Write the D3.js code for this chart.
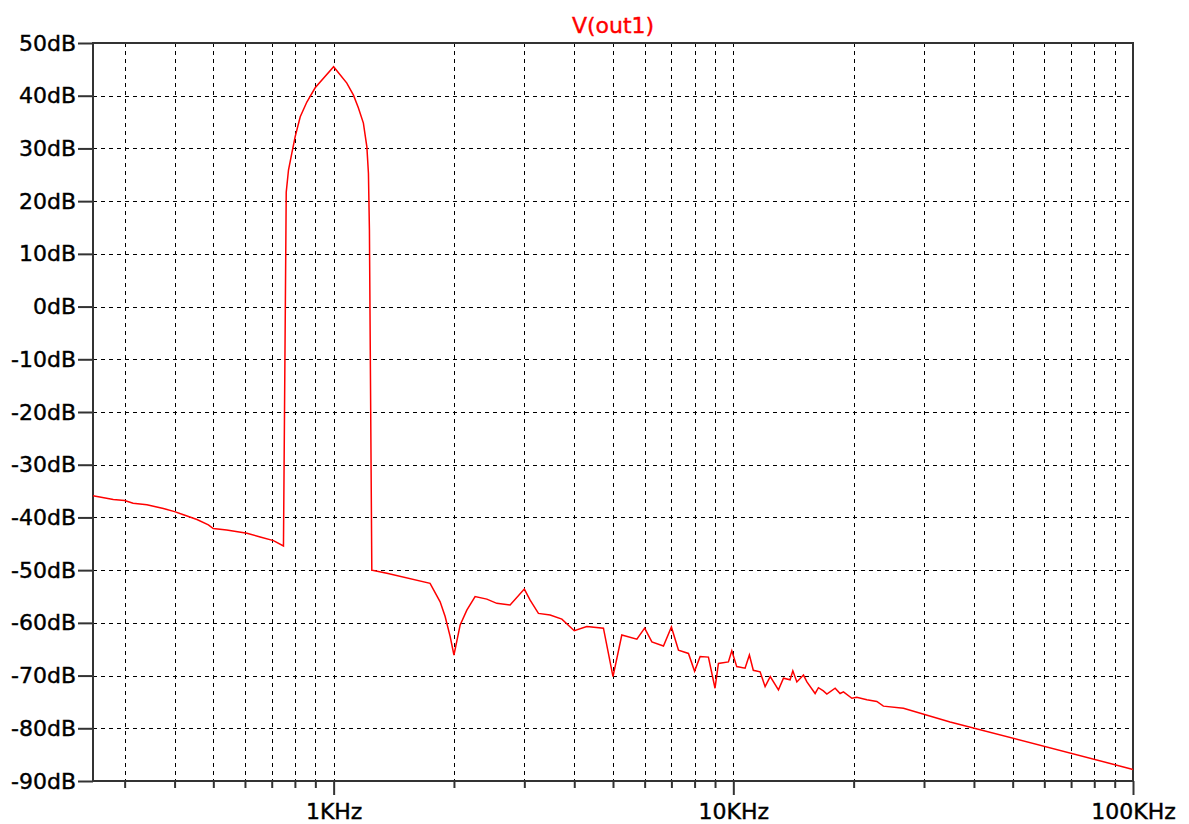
<!DOCTYPE html>
<html>
<head>
<meta charset="utf-8">
<script src="https://cdn.jsdelivr.net/npm/d3@7"></script>
<style>
  body { margin: 0; background: #fff; }
  text { font-family: "DejaVu Sans", sans-serif; }
</style>
</head>
<body>
<figure id="bode" style="margin:0"></figure>
<script>
// curve: frequency (Hz) and magnitude (dB)
var freq = [250, 281, 300, 315, 341, 375, 400, 421, 455, 486, 500, 540, 607, 655, 707, 749,
  761, 771, 786, 801, 825, 857, 899, 1000, 1079, 1121, 1153, 1187, 1211, 1222, 1229, 1246,
  1250, 1359, 1743, 1847, 1901, 1957, 2000, 2073, 2154, 2259, 2417, 2560, 2764, 3000, 3102,
  3254, 3481, 3724, 4000, 4300, 4732, 5000, 5260, 5737, 6000, 6255, 6687, 7000, 7291, 7723,
  8000, 8259, 8664, 9000, 9178, 9721, 9913, 10200, 10700, 10970, 11220, 11670, 12010, 12370,
  12970, 13350, 13870, 14090, 14420, 14980, 15280, 16020, 16330, 16800, 17140, 17980, 18500,
  18860, 19800, 20370, 21580, 22860, 23740, 26650, 34860, 100000];
var mag = [-35.9, -36.6, -36.8, -37.3, -37.6, -38.3, -38.9, -39.5, -40.4, -41.4, -42.1, -42.4, -43.0, -43.7, -44.4, -45.4,
  21.7, 25.9, 29.1, 32.2, 36.0, 38.8, 41.5, 45.5, 42.4, 40.1, 37.7, 34.8, 30.3, 25.3, 14.5, -50.0,
  -50.0, -50.6, -52.5, -56.0, -58.8, -62.6, -66.1, -60.4, -57.6, -55.0, -55.5, -56.3, -56.6, -53.6, -55.7,
  -58.2, -58.5, -59.3, -61.5, -60.7, -61.0, -70.2, -62.3, -63.1, -61.0, -63.6, -64.4, -60.8, -65.2, -65.8,
  -69.2, -66.4, -66.5, -72.4, -67.7, -67.4, -65.3, -68.3, -68.6, -66.1, -69.0, -69.3, -72.1, -70.2,
  -72.7, -70.5, -70.8, -69.1, -71.2, -69.9, -71.2, -73.4, -72.3, -72.9, -73.5, -72.4, -73.4,
  -73.1, -74.3, -74.1, -74.6, -74.9, -75.8, -76.2, -78.8, -87.8];

// tick values and labels
var dbTicks = [50, 40, 30, 20, 10, 0, -10, -20, -30, -40, -50, -60, -70, -80, -90];
var majorFreqs = [1000, 10000, 100000];
var majorLabels = ["1KHz", "10KHz", "100KHz"];
var minorFreqs = [300, 400, 500, 600, 700, 800, 900,
  2000, 3000, 4000, 5000, 6000, 7000, 8000, 9000,
  20000, 30000, 40000, 50000, 60000, 70000, 80000, 90000];
var traceName = "V(out1)";

var margin = {top: 43, right: 56, bottom: 43, left: 93},
  width = 1189 - margin.left - margin.right,
  height = 824 - margin.top - margin.bottom;

var svg = d3.select("figure#bode")
.append("svg")
  .attr("width", width + margin.left + margin.right)
  .attr("height", height + margin.top + margin.bottom)
.append("g")
  .attr("transform", "translate(" + margin.left + "," + margin.top + ")");

var x = d3.scaleLog()
  .domain([250, 100000])
  .range([0, width]);

var y = d3.scaleLinear()
  .domain([-90, 50])
  .range([height, 0]);

// dashed grid
svg.append("g")
  .selectAll("line")
  .data(minorFreqs.concat(majorFreqs.slice(0, 2)))
  .enter()
  .append("line")
    .attr("x1", function(d) { return Math.round(x(d)) + 0.5; })
    .attr("x2", function(d) { return Math.round(x(d)) + 0.5; })
    .attr("y1", 0)
    .attr("y2", height)
    .attr("stroke", "#000")
    .attr("stroke-dasharray", "4,4");

svg.append("g")
  .selectAll("line")
  .data(dbTicks.slice(1, -1))
  .enter()
  .append("line")
    .attr("x1", 0)
    .attr("x2", width)
    .attr("y1", function(d) { return Math.round(y(d)) + 0.5; })
    .attr("y2", function(d) { return Math.round(y(d)) + 0.5; })
    .attr("stroke", "#000")
    .attr("stroke-dasharray", "4,4");

// y axis
svg.append("g")
  .attr("class", "y_axis")
  .call(d3.axisLeft(y).tickValues(dbTicks).tickSize(15).tickPadding(2)
    .tickFormat(function(d) { return d + "dB"; }))
  .call(g => g.select(".domain").remove())
  .call(g => g.selectAll("line").attr("stroke", "#333").attr("stroke-width", 2))
  .call(g => g.selectAll("text").attr("fill", "#000").attr("stroke", "#000")
    .attr("stroke-width", 0.4).style("font-size", "22px"));

// x axis: minor ticks, then labelled decades
svg.append("g")
  .attr("transform", "translate(0," + height + ")")
  .call(d3.axisBottom(x).tickValues(minorFreqs).tickSize(7).tickFormat(""))
  .call(g => g.select(".domain").remove())
  .call(g => g.selectAll("line").attr("stroke", "#333").attr("stroke-width", 2));

svg.append("g")
  .attr("transform", "translate(0," + height + ")")
  .call(d3.axisBottom(x).tickValues(majorFreqs).tickSize(14).tickPadding(8)
    .tickFormat(function(d, i) { return majorLabels[i]; }))
  .call(g => g.select(".domain").remove())
  .call(g => g.selectAll("line").attr("stroke", "#333").attr("stroke-width", 2))
  .call(g => g.selectAll("text").attr("fill", "#000").attr("stroke", "#000")
    .attr("stroke-width", 0.4).style("font-size", "22px"));

// frame
svg.append("rect")
  .attr("x", 0)
  .attr("y", 0)
  .attr("width", width)
  .attr("height", height)
  .attr("fill", "none")
  .attr("stroke", "#333")
  .attr("stroke-width", 2);

// trace
var line = d3.line()
  .x(function(d, i) { return x(freq[i]); })
  .y(function(d) { return y(d); });

svg.append("path")
  .datum(mag)
  .attr("d", line)
  .attr("fill", "none")
  .attr("stroke", "#ff0000")
  .attr("stroke-width", 1.5);

// title
svg.append("text")
  .attr("x", width / 2)
  .attr("y", -10)
  .attr("text-anchor", "middle")
  .attr("fill", "#ff0000")
  .attr("stroke", "#ff0000")
  .attr("stroke-width", 0.4)
  .style("font-size", "22px")
  .text(traceName);
</script>
</body>
</html>
